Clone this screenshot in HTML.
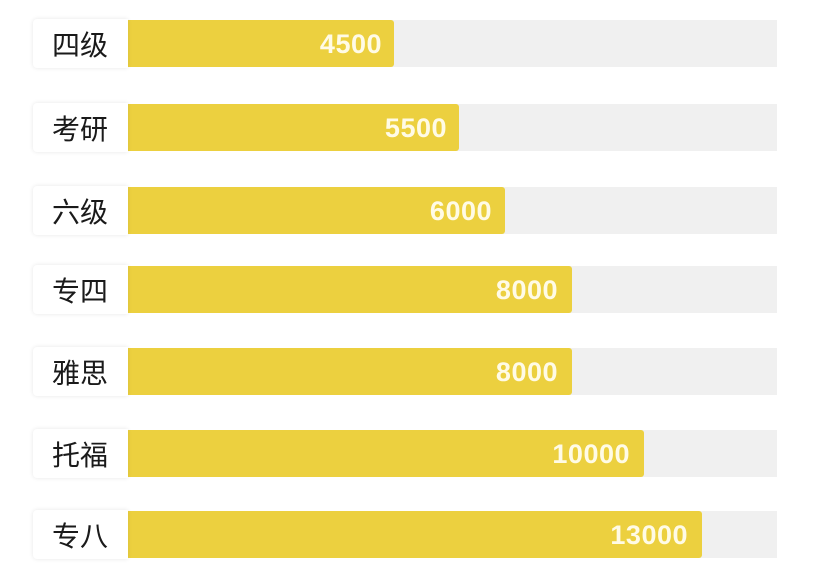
<!DOCTYPE html>
<html><head><meta charset="utf-8">
<style>
html,body{margin:0;padding:0;background:#fff;}
body{width:815px;height:584px;position:relative;overflow:hidden;font-family:"Liberation Sans","Noto Sans CJK SC",sans-serif;}
.row{position:absolute;left:0;width:815px;height:47px;}
.lab{position:absolute;left:33px;top:-1px;width:95px;height:49px;background:#fff;border-radius:4px 0 0 4px;box-shadow:0 0 4px rgba(0,0,0,0.10);font-size:28px;color:#1a1a1a;line-height:51px;text-indent:19px;font-family:"Noto Sans CJK SC","WenQuanYi Zen Hei",sans-serif;}
.track{position:absolute;left:128px;top:0;width:649px;height:47px;background:#f0f0f0;}
.bar{position:absolute;left:128px;top:0;height:47px;background:#ecd03f;border-radius:0 3px 3px 0;}
.num{position:absolute;top:0;height:47px;line-height:49px;font-size:27px;font-weight:bold;color:#fffbe6;text-align:right;width:200px;letter-spacing:0.5px;}
</style></head><body>
<div class="row" style="top:20px"><div class="track"></div><div class="bar" style="width:266px"></div><div class="num" style="left:182px">4500</div><div class="lab">四级</div></div>
<div class="row" style="top:104px"><div class="track"></div><div class="bar" style="width:331px"></div><div class="num" style="left:247px">5500</div><div class="lab">考研</div></div>
<div class="row" style="top:187px"><div class="track"></div><div class="bar" style="width:377px"></div><div class="num" style="left:292px">6000</div><div class="lab">六级</div></div>
<div class="row" style="top:266px"><div class="track"></div><div class="bar" style="width:444px"></div><div class="num" style="left:358px">8000</div><div class="lab">专四</div></div>
<div class="row" style="top:348px"><div class="track"></div><div class="bar" style="width:444px"></div><div class="num" style="left:358px">8000</div><div class="lab">雅思</div></div>
<div class="row" style="top:430px"><div class="track"></div><div class="bar" style="width:516px"></div><div class="num" style="left:430px">10000</div><div class="lab">托福</div></div>
<div class="row" style="top:511px"><div class="track"></div><div class="bar" style="width:574px"></div><div class="num" style="left:488px">13000</div><div class="lab">专八</div></div>
</body></html>
